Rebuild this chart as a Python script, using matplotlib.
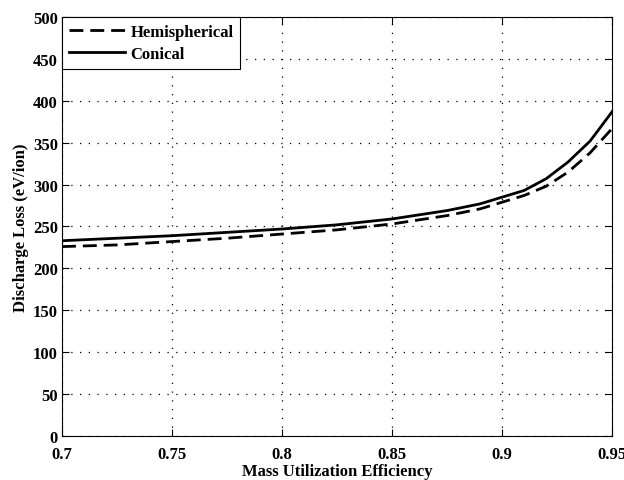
import matplotlib
matplotlib.use("Agg")
import matplotlib.pyplot as plt

# values
efficiency = [0.70, 0.725, 0.75, 0.775, 0.80, 0.825, 0.85, 0.875, 0.89, 0.90, 0.91, 0.92, 0.93, 0.94, 0.95]
conical = [233, 236, 239, 243, 247, 252, 259, 269, 277, 285, 293, 307, 327, 352, 387]
hemispherical = [226, 228, 232, 236, 241, 246, 253, 263, 271, 279, 287, 298, 315, 338, 367]

x_ticks = [0.7, 0.75, 0.8, 0.85, 0.9, 0.95]
x_labels = ["0.7", "0.75", "0.8", "0.85", "0.9", "0.95"]
y_ticks = list(range(0, 501, 50))

plt.rcParams["font.family"] = ["Liberation Serif", "DejaVu Serif"]
plt.rcParams["font.weight"] = "bold"

fig = plt.figure(figsize=(6.24, 4.81), dpi=100)
ax = fig.add_axes([0.0994, 0.0915, 0.8816, 0.8711])

ax.plot(efficiency, hemispherical, "k--", lw=2.0, dashes=(5, 2.5), label="Hemispherical")
ax.plot(efficiency, conical, "k-", lw=2.0, label="Conical")

ax.set_xlim(0.7, 0.95)
ax.set_ylim(0, 500)
ax.set_xticks(x_ticks)
ax.set_xticklabels(x_labels)
ax.set_yticks(y_ticks)
ax.tick_params(direction="in", top=True, right=True, labelsize=12, length=5)
ax.tick_params(axis="x", pad=7)
ax.tick_params(axis="y", pad=3)
for lbl in ax.get_xticklabels() + ax.get_yticklabels():
    lbl.set_fontweight("bold")
ax.grid(True, color="black", linestyle=(0, (1, 6)), linewidth=0.9)

ax.set_xlabel("Mass Utilization Efficiency", fontsize=12, fontweight="bold", labelpad=1)
ax.set_ylabel("Discharge Loss (eV/ion)", fontsize=12, fontweight="bold", labelpad=3)

leg = ax.legend(loc="upper left", fancybox=False, framealpha=1, edgecolor="black",
                borderaxespad=0, handlelength=3.4, handletextpad=0.3,
                borderpad=0.4, labelspacing=0.4,
                prop={"size": 12, "weight": "bold"})
leg.get_frame().set_linewidth(0.8)

fig.savefig("out.png", dpi=100)
